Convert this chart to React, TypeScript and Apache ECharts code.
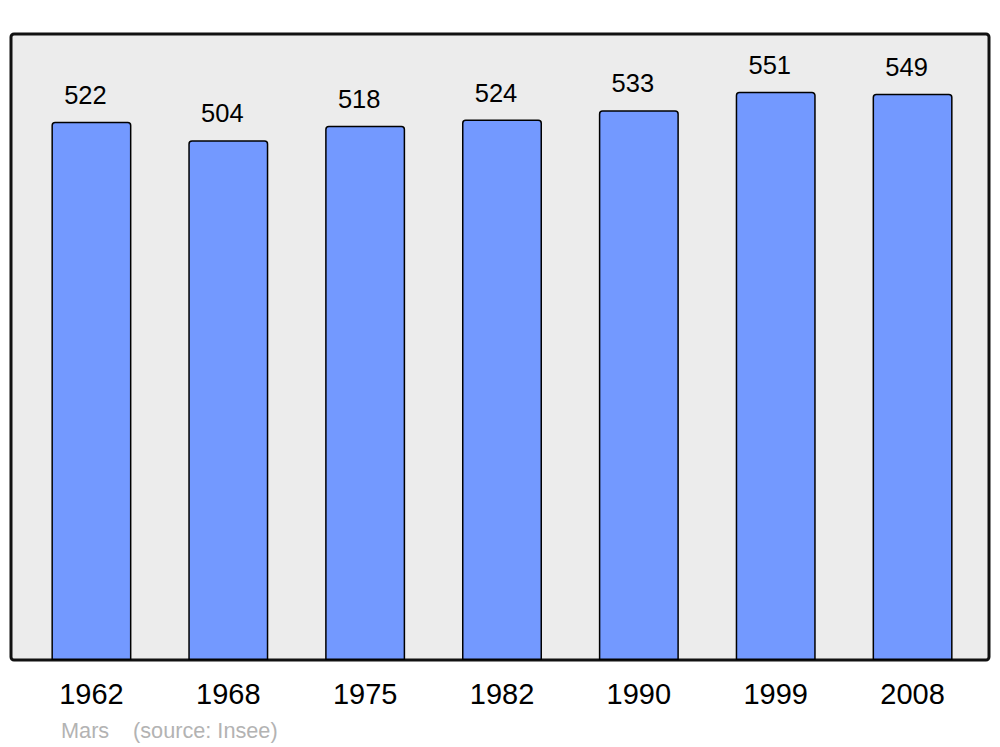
import React, { useEffect, useRef } from "react";
import * as echarts from "echarts";

const years = ["1962", "1968", "1975", "1982", "1990", "1999", "2008"];
const population = [522, 504, 518, 524, 533, 551, 549];
const placeName = "Mars";
const sourceText = "(source: Insee)";

export default function App() {
  const ref = useRef<HTMLDivElement>(null);
  useEffect(() => {
    document.body.style.margin = "0";
    const chart = echarts.init(ref.current!, null, { renderer: "svg" });
    chart.setOption({
      animation: false,
      textStyle: { fontFamily: "Liberation Sans, Arial, sans-serif" },
      grid: { left: 23, right: 19, top: 34, bottom: 87 },
      graphic: [
        {
          type: "rect",
          z: 0,
          shape: { x: 11, y: 34, width: 978, height: 626, r: 3 },
          style: { fill: "#ececec", stroke: "#111111", lineWidth: 3 },
        },
        {
          type: "text",
          x: 61,
          y: 730,
          style: {
            text: placeName,
            fill: "#b3b3b3",
            font: "21.7px Liberation Sans, Arial, sans-serif",
            verticalAlign: "middle",
          },
        },
        {
          type: "text",
          x: 133,
          y: 730,
          style: {
            text: sourceText,
            fill: "#b3b3b3",
            font: "21.7px Liberation Sans, Arial, sans-serif",
            verticalAlign: "middle",
          },
        },
      ],
      xAxis: {
        type: "category",
        data: years,
        axisLine: { show: false },
        axisTick: { show: false },
        axisLabel: {
          color: "#000",
          fontSize: 29,
          margin: 19,
          fontFamily: "Liberation Sans, Arial, sans-serif",
        },
      },
      yAxis: { type: "value", min: 0, max: 607, show: false, splitLine: { show: false } },
      series: [
        {
          type: "bar",
          data: population,
          barWidth: 80,
          z: 2,
          itemStyle: {
            color: "#7399ff",
            borderColor: "#000",
            borderWidth: 1.5,
            borderRadius: [3, 3, 0, 0],
          },
          label: {
            show: true,
            position: "top",
            distance: 14,
            offset: [-6, 0],
            color: "#000",
            fontSize: 25.5,
            fontFamily: "Liberation Sans, Arial, sans-serif",
          },
        },
      ],
    });
    return () => chart.dispose();
  }, []);
  return <div ref={ref} style={{ width: 1000, height: 747 }} />;
}
